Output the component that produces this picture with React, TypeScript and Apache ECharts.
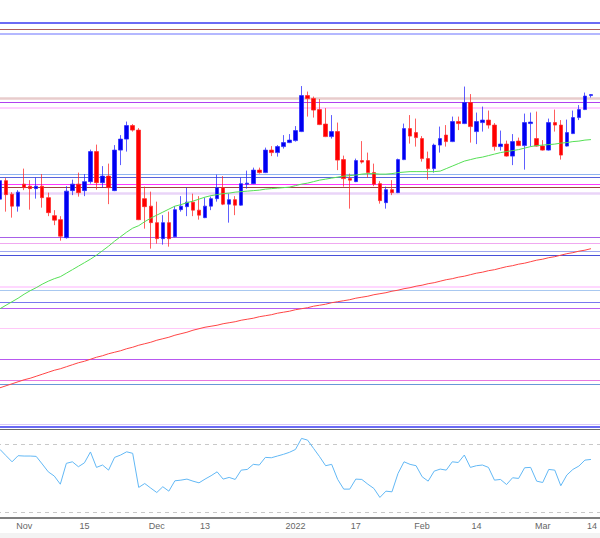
import React, { useEffect, useRef } from "react";
import * as echarts from "echarts";

// Trading days (weekdays) shown on the category axis
const FIRST_DAY = "2021-10-26";
const LAST_DAY = "2022-03-14";

// Tick labels: category -> text
const TICK_DATES = ["2021-11-01", "2021-11-15", "2021-12-01", "2021-12-13", "2022-01-03", "2022-01-17", "2022-02-01", "2022-02-14", "2022-03-01", "2022-03-14"];
const TICK_TEXTS = ["Nov", "15", "Dec", "13", "2022", "17", "Feb", "14", "Mar", "14"];

// Daily candles: [open, close, low, high]
const CANDLES: number[][] = [
  [116.02, 116.39, 116.0, 116.42], [116.39, 116.11, 115.77, 116.44], [116.12, 115.88, 115.65, 116.16], [115.88, 116.16, 115.77, 116.2],
  [116.32, 116.25, 116.2, 116.63], [116.28, 116.23, 115.81, 116.4], [116.23, 116.28, 116.03, 116.45], [116.28, 116.05, 115.85, 116.52],
  [116.05, 115.75, 115.68, 116.15], [115.69, 115.6, 115.5, 115.8], [115.61, 115.28, 115.19, 115.68], [115.25, 116.18, 115.23, 116.28],
  [116.19, 116.32, 116.1, 116.41], [116.32, 116.15, 116.07, 116.55], [116.19, 116.37, 116.08, 116.52], [116.37, 116.97, 116.33, 117.01],
  [116.97, 116.35, 116.21, 117.11], [116.35, 116.48, 116.25, 116.68], [116.48, 116.25, 115.92, 116.73], [116.19, 117.0, 116.18, 117.1],
  [117.0, 117.22, 116.7, 117.3], [117.22, 117.49, 116.97, 117.57], [117.49, 117.4, 117.37, 117.52], [117.4, 115.61, 115.6, 117.44],
  [116.03, 115.87, 115.43, 116.27], [115.88, 115.55, 115.03, 116.17], [115.55, 115.23, 115.13, 115.97], [115.23, 115.55, 115.11, 115.7],
  [115.55, 115.23, 115.07, 115.77], [115.27, 115.81, 115.26, 115.88], [115.81, 115.88, 115.77, 116.08], [115.87, 115.96, 115.68, 116.25],
  [115.96, 115.8, 115.68, 116.13], [115.8, 115.7, 115.61, 116.08], [115.65, 115.88, 115.64, 116.05], [115.88, 116.03, 115.8, 116.07],
  [116.03, 116.25, 115.97, 116.51], [116.25, 115.92, 115.9, 116.48], [115.92, 116.01, 115.55, 116.13], [116.01, 115.9, 115.7, 116.08],
  [115.9, 116.33, 115.89, 116.45], [116.32, 116.34, 116.23, 116.59], [116.33, 116.6, 116.32, 116.65], [116.6, 116.55, 116.53, 116.65],
  [116.55, 117.0, 116.54, 117.05], [117.0, 116.95, 116.88, 117.08], [116.95, 117.07, 116.87, 117.1], [117.07, 117.15, 117.03, 117.3],
  [117.15, 117.2, 117.14, 117.32], [117.19, 117.39, 117.17, 117.48], [117.37, 118.09, 117.36, 118.28], [118.09, 118.03, 117.67, 118.17],
  [118.03, 117.8, 117.65, 118.07], [117.81, 117.51, 117.5, 118.02], [117.52, 117.27, 117.26, 117.84], [117.27, 117.37, 117.23, 117.7],
  [117.37, 116.8, 116.6, 117.55], [116.81, 116.43, 116.27, 116.89], [116.43, 116.4, 115.83, 116.53], [116.37, 116.79, 116.36, 116.83],
  [116.79, 116.76, 116.73, 117.18], [116.79, 116.55, 116.45, 116.95], [116.55, 116.32, 116.28, 116.73], [116.33, 115.99, 115.93, 116.38],
  [115.95, 116.21, 115.83, 116.27], [116.21, 116.15, 116.1, 116.4], [116.15, 116.81, 116.14, 116.83], [116.81, 117.43, 116.8, 117.53],
  [117.43, 117.28, 117.13, 117.7], [117.35, 117.25, 117.07, 117.63], [117.23, 116.83, 116.77, 117.28], [116.83, 116.63, 116.41, 116.97],
  [116.63, 117.1, 116.55, 117.13], [117.1, 117.23, 116.95, 117.47], [117.3, 117.17, 117.07, 117.5], [117.17, 117.57, 117.16, 117.67],
  [117.57, 117.53, 117.4, 117.67], [117.53, 117.95, 117.52, 118.27], [117.95, 117.47, 117.15, 118.12], [117.37, 117.57, 117.12, 117.75],
  [117.55, 117.6, 117.37, 117.87], [117.6, 117.5, 117.43, 117.79], [117.5, 117.07, 116.99, 117.54], [117.07, 117.12, 116.99, 117.39],
  [117.12, 116.88, 116.87, 117.19], [116.88, 117.17, 116.7, 117.32], [117.18, 117.09, 117.08, 117.25], [117.09, 117.55, 116.61, 117.73],
  [117.53, 117.56, 117.07, 117.75], [117.23, 117.08, 117.07, 117.77], [117.08, 117.0, 116.99, 117.2], [117.0, 117.55, 116.99, 117.63],
  [117.55, 117.5, 117.37, 117.81], [117.5, 116.9, 116.81, 117.6], [117.08, 117.35, 117.07, 117.61], [117.33, 117.65, 117.32, 117.79],
  [117.65, 117.81, 117.6, 117.9], [117.81, 118.08, 117.8, 118.15], [118.09, 118.11, 118.05, 118.12],
];

// Short moving average (green)
const MA_SHORT = [
  113.83, 113.9, 113.97, 114.04, 114.12, 114.19, 114.25, 114.32, 114.38, 114.43,
  114.47, 114.54, 114.61, 114.68, 114.75, 114.82, 114.9, 114.99, 115.08, 115.18,
  115.27, 115.36, 115.44, 115.49, 115.57, 115.64, 115.7, 115.76, 115.82, 115.88,
  115.91, 115.95, 115.98, 116.02, 116.06, 116.09, 116.11, 116.13, 116.14, 116.16,
  116.17, 116.18, 116.19, 116.2, 116.22, 116.23, 116.24, 116.25, 116.26, 116.29,
  116.32, 116.34, 116.37, 116.4, 116.42, 116.44, 116.46, 116.48, 116.49, 116.5,
  116.52, 116.53, 116.53, 116.52, 116.52, 116.53, 116.55, 116.56, 116.57, 116.57,
  116.57, 116.57, 116.57, 116.58, 116.63, 116.68, 116.73, 116.78, 116.81, 116.84,
  116.86, 116.89, 116.92, 116.95, 116.97, 116.99, 117.01, 117.04, 117.07, 117.09,
  117.1, 117.11, 117.12, 117.14, 117.15, 117.17, 117.18, 117.2, 117.21,
];

// Long moving average (red)
const MA_LONG = [
  112.25, 112.29, 112.33, 112.37, 112.41, 112.44, 112.48, 112.52, 112.56, 112.6,
  112.63, 112.67, 112.71, 112.75, 112.78, 112.82, 112.86, 112.89, 112.93, 112.96,
  112.99, 113.03, 113.06, 113.1, 113.13, 113.16, 113.2, 113.23, 113.26, 113.3,
  113.33, 113.36, 113.4, 113.43, 113.46, 113.48, 113.5, 113.53, 113.55, 113.57,
  113.6, 113.62, 113.64, 113.67, 113.69, 113.71, 113.74, 113.76, 113.78, 113.81,
  113.83, 113.85, 113.88, 113.9, 113.92, 113.95, 113.97, 113.99, 114.01, 114.04,
  114.06, 114.08, 114.11, 114.13, 114.15, 114.18, 114.2, 114.23, 114.25, 114.28,
  114.3, 114.33, 114.35, 114.38, 114.41, 114.43, 114.46, 114.48, 114.51, 114.54,
  114.56, 114.59, 114.61, 114.64, 114.67, 114.69, 114.72, 114.74, 114.77, 114.8,
  114.82, 114.85, 114.87, 114.9, 114.93, 114.95, 114.98, 115.0, 115.03,
];

// RSI
const RSI = [
  67.0, 63.3, 59.7, 63.3, 63.1, 63.1, 62.9, 58.4, 53.8, 51.3,
  46.5, 58.8, 59.7, 56.8, 59.1, 65.5, 56.4, 57.8, 54.8, 62.3,
  63.7, 65.6, 64.7, 44.6, 46.9, 44.2, 41.6, 45.0, 42.4, 48.5,
  48.9, 49.5, 48.3, 47.3, 49.5, 51.5, 53.8, 49.5, 50.5, 49.3,
  54.8, 55.2, 58.2, 57.8, 62.3, 62.1, 63.1, 64.1, 65.3, 67.0,
  73.5, 72.5, 67.6, 62.7, 57.4, 58.2, 49.3, 43.6, 43.6, 49.5,
  49.3, 46.5, 44.0, 38.7, 42.4, 42.0, 52.8, 59.7, 58.2, 57.4,
  50.9, 48.3, 54.2, 55.4, 54.8, 59.7, 59.3, 63.7, 56.4, 57.4,
  57.8, 56.4, 48.9, 49.3, 46.3, 50.3, 49.9, 56.2, 56.4, 48.3,
  47.5, 55.2, 54.8, 45.6, 51.9, 55.2, 57.2, 60.7, 61.1,
];
const RSI_LEVELS = [70, 30];

// Horizontal price levels
const LEVELS = [
  119.55, 119.41, 119.32, 118.03, 117.96, 117.85, 116.51, 116.45, 116.31, 116.25, 116.13,
  115.25, 115.14, 114.98, 114.89, 114.27, 114.19, 113.95, 113.83, 113.43, 112.83, 112.41,
  112.33, 111.53, 111.48,
];
const LEVEL_COLORS = [
  "#3a3af0", "#b05c5c", "#b4b8ff", "#e8cccc", "#b040f0", "#ffd0ff", "#90b4f0", "#5a62dc", "#ff38ff", "#a04040", "#ead4f8",
  "#a860e8", "#f0a8f0", "#a0a8f0", "#4850d8", "#ffd8ff", "#a8c8f0", "#7878f0", "#b860f0", "#ffc8f8", "#b858f0", "#e878e0",
  "#6898d8", "#d8c8f8", "#3838f0",
];
const LEVEL_WIDTHS = [
  1.5, 1.2, 2, 2.5, 1.2, 2, 1.2, 1.2, 1.2, 1.2, 2.5,
  1.2, 1.2, 1.2, 1.2, 2, 1.2, 1.2, 1.2, 1.2, 1.2, 1.2,
  1.2, 1.2, 1.5,
];

const PRICE_MIN = 111.42;
const PRICE_MAX = 120;
const RSI_MIN = 26.75;
const RSI_MAX = 78.45;

function weekdays(from: string, to: string): string[] {
  const out: string[] = [];
  const end = Date.parse(to + "T00:00:00Z");
  for (let t = Date.parse(from + "T00:00:00Z"); t <= end; t += 86400000) {
    const d = new Date(t);
    const wd = d.getUTCDay();
    if (wd === 0 || wd === 6) continue;
    out.push(d.toISOString().slice(0, 10));
  }
  return out;
}

export default function App() {
  const ref = useRef<HTMLDivElement>(null);

  useEffect(() => {
    document.body.style.margin = "0";
    if (!ref.current) return;
    const chart = echarts.init(ref.current, undefined, { renderer: "svg" });
    const dates = weekdays(FIRST_DAY, LAST_DAY);
    const tickMap: Record<string, string> = {};
    TICK_DATES.forEach((d, i) => {
      tickMap[d] = TICK_TEXTS[i];
    });

    const option: any = {
      animation: false,
      backgroundColor: "#ffffff",
      grid: [
        { left: -3, right: 0, top: 0, height: 429.3, containLabel: false, outerBoundsMode: "none" },
        { left: -3, right: 0, top: 430, height: 87.7, containLabel: false, outerBoundsMode: "none" },
      ],
      xAxis: [
        {
          type: "category",
          gridIndex: 0,
          data: dates,
          boundaryGap: true,
          axisLine: { show: true, lineStyle: { color: "#6a6a6a", width: 1 } },
          axisTick: { show: false },
          axisLabel: { show: false },
          splitLine: { show: false },
        },
        {
          type: "category",
          gridIndex: 1,
          data: dates,
          boundaryGap: true,
          axisLine: { show: true, lineStyle: { color: "#555555", width: 1.5 } },
          axisTick: { show: false },
          axisLabel: {
            show: true,
            interval: (_i: number, v: string) => tickMap[v] !== undefined,
            formatter: (v: string) => tickMap[v] || "",
            color: "#666666",
            fontSize: 9,
            fontFamily: "Liberation Sans, Arial, sans-serif",
            margin: 4,
            alignMaxLabel: "right",
          },
          splitLine: { show: false },
        },
      ],
      yAxis: [
        { type: "value", gridIndex: 0, min: PRICE_MIN, max: PRICE_MAX, show: false, splitLine: { show: false } },
        { type: "value", gridIndex: 1, min: RSI_MIN, max: RSI_MAX, show: false, splitLine: { show: false } },
      ],
      graphic: [
        { type: "rect", left: 0, top: 533, shape: { width: 600, height: 5 }, style: { fill: "#f3f3f3" }, silent: true },
      ],
      series: [
        {
          type: "candlestick",
          xAxisIndex: 0,
          yAxisIndex: 0,
          data: CANDLES,
          barWidth: 4,
          z: 3,
          itemStyle: {
            color: "#0000f0",
            color0: "#ff0000",
            borderColor: "rgba(40,40,255,0.75)",
            borderColor0: "rgba(255,40,40,0.75)",
            borderWidth: 1,
          },
          markLine: {
            silent: true,
            z: 1,
            symbol: ["none", "none"],
            label: { show: false },
            emphasis: { disabled: true },
            animation: false,
            data: LEVELS.map((v, i) => ({
              yAxis: v,
              lineStyle: { color: LEVEL_COLORS[i], width: LEVEL_WIDTHS[i], type: "solid" },
            })),
          },
        },
        {
          type: "line",
          xAxisIndex: 0,
          yAxisIndex: 0,
          data: MA_SHORT,
          showSymbol: false,
          z: 4,
          lineStyle: { color: "#55e055", width: 1 },
          silent: true,
        },
        {
          type: "line",
          xAxisIndex: 0,
          yAxisIndex: 0,
          data: MA_LONG,
          showSymbol: false,
          z: 4,
          lineStyle: { color: "#ff4545", width: 1 },
          silent: true,
        },
        {
          type: "line",
          xAxisIndex: 1,
          yAxisIndex: 1,
          data: RSI,
          showSymbol: false,
          z: 4,
          lineStyle: { color: "#62b8f5", width: 1 },
          silent: true,
          markLine: {
            silent: true,
            z: 1,
            symbol: ["none", "none"],
            label: { show: false },
            emphasis: { disabled: true },
            animation: false,
            data: RSI_LEVELS.map((v) => ({
              yAxis: v,
              lineStyle: { color: "#c8c8c8", width: 1, type: [4, 4] },
            })),
          },
        },
      ],
    };
    chart.setOption(option);
    return () => chart.dispose();
  }, []);

  return <div ref={ref} style={{ width: 600, height: 538 }} />;
}
